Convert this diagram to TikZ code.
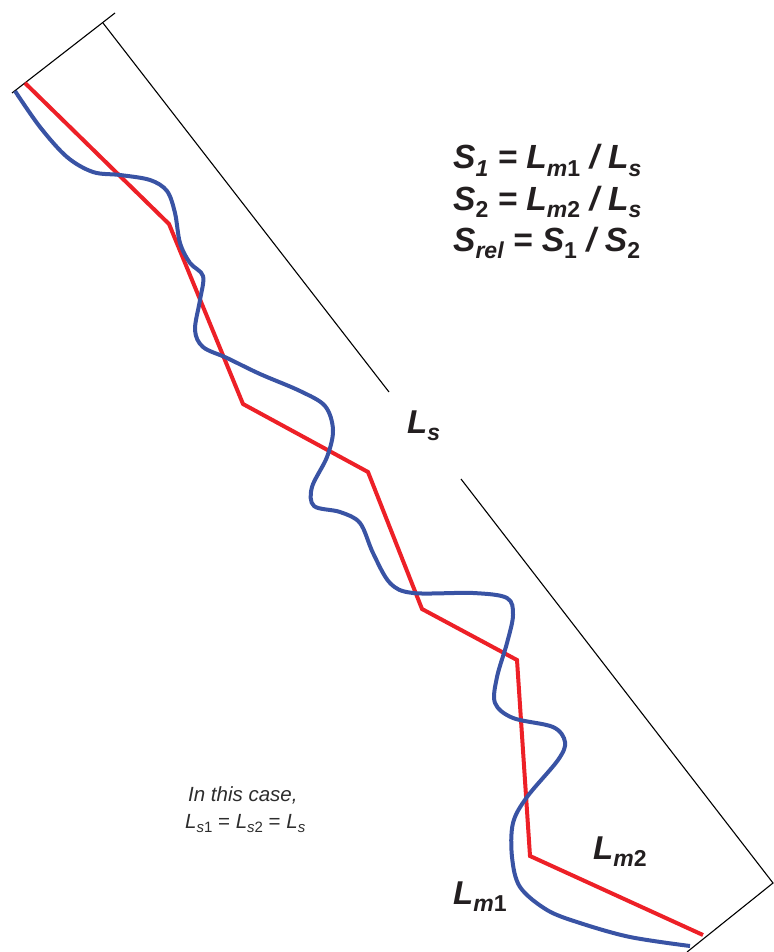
\documentclass[tikz,border=0pt]{standalone}
\usepackage{fontspec}
\setmainfont{Liberation Sans}
\definecolor{rline}{RGB}{237,32,39}
\definecolor{bline}{RGB}{57,83,164}
\definecolor{txtdark}{RGB}{35,31,32}
\definecolor{txtgray}{RGB}{45,45,45}
\newcommand\subx[1]{\raisebox{-0.22em}{\fontsize{23}{23}\selectfont #1}}
\newcommand\subsm[1]{\raisebox{-0.22em}{\fontsize{15}{15}\selectfont #1}}
\begin{document}
\begin{tikzpicture}[x=1pt,y=-1pt,
  guide/.style={black,line width=1.1pt},
  redpath/.style={rline,line width=4pt,line join=miter},
  bluepath/.style={bline,line width=4pt},
  formula/.style={anchor=base west,inner sep=0pt,font=\fontsize{33.5}{33.5}\selectfont\bfseries\itshape,text=txtdark},
  biglabel/.style={anchor=base west,inner sep=0pt,font=\fontsize{33}{33}\selectfont\bfseries\itshape,text=txtdark},
  note/.style={anchor=base west,inner sep=0pt,font=\fontsize{20.5}{20.5}\selectfont\itshape,text=txtgray}]
\useasboundingbox (0,0) rectangle (773,952);
% guide lines
\coordinate (tbA) at (12,93);
\coordinate (tbB) at (115,13);
\coordinate (g1) at (103,23);
\coordinate (g2) at (389,392);
\coordinate (g3) at (461,479);
\coordinate (g4) at (773,883);
\coordinate (bbB) at (687,952);
\draw[guide] (tbA) -- (tbB);
\draw[guide] (g1) -- (g2);
\draw[guide] (g3) -- (g4) -- (bbB);
% red segmented path
\coordinate (r0) at (25,83);
\coordinate (r1) at (169,224);
\coordinate (r2) at (243,404);
\coordinate (r3) at (368,472);
\coordinate (r4) at (422,609);
\coordinate (r5) at (517,660);
\coordinate (r6) at (530,856);
\coordinate (r7) at (703,935);
\draw[redpath] (r0) -- (r1) -- (r2) -- (r3) -- (r4) -- (r5) -- (r6) -- (r7);
% blue meandering path
\draw[bluepath] plot[smooth,tension=0.55] coordinates {
 (15,91) (40,127) (67,157) (93,172) (120,175) (150,180) (167,191) (175,213)
 (180,243) (190,263) (203,276) (200,300) (195,330) (203,347) (227,358)
 (260,374) (300,391) (325,406) (333,430) (327,457) (312,487) (314,506)
 (340,512) (360,523) (373,553) (390,583) (413,593) (473,593) (507,598)
 (513,615) (507,643) (497,677) (495,703) (513,718) (553,727) (565,742)
 (558,760) (527,797) (513,823) (512,857) (520,887) (547,910) (580,923)
 (630,937) (690,946)};
% formulas
\node[formula] (f1) at (453,169) {S\subx{1} = L\subx{m\upshape 1} / L\subx{s}};
\node[formula] (f2) at (453,210) {S\subx{\upshape 2} = L\subx{m\upshape 2} / L\subx{s}};
\node[formula] (f3) at (453,251) {S\subx{rel} = S\subx{\upshape 1} / S\subx{\upshape 2}};
% labels
\node[biglabel] (ls) at (407,433) {L\subx{s}};
\node[biglabel] (lm2) at (593,859) {L\subx{m\upshape 2}};
\node[biglabel] (lm1) at (453,904) {L\subx{m\upshape 1}};
% note
\node[note] (n1) at (188,801) {In this case,};
\node[note] (n2) at (185,828) {L\subsm{s\upshape 1} \upshape= \itshape L\subsm{s\upshape 2} \upshape= \itshape L\subsm{s}};
\end{tikzpicture}
\end{document}
